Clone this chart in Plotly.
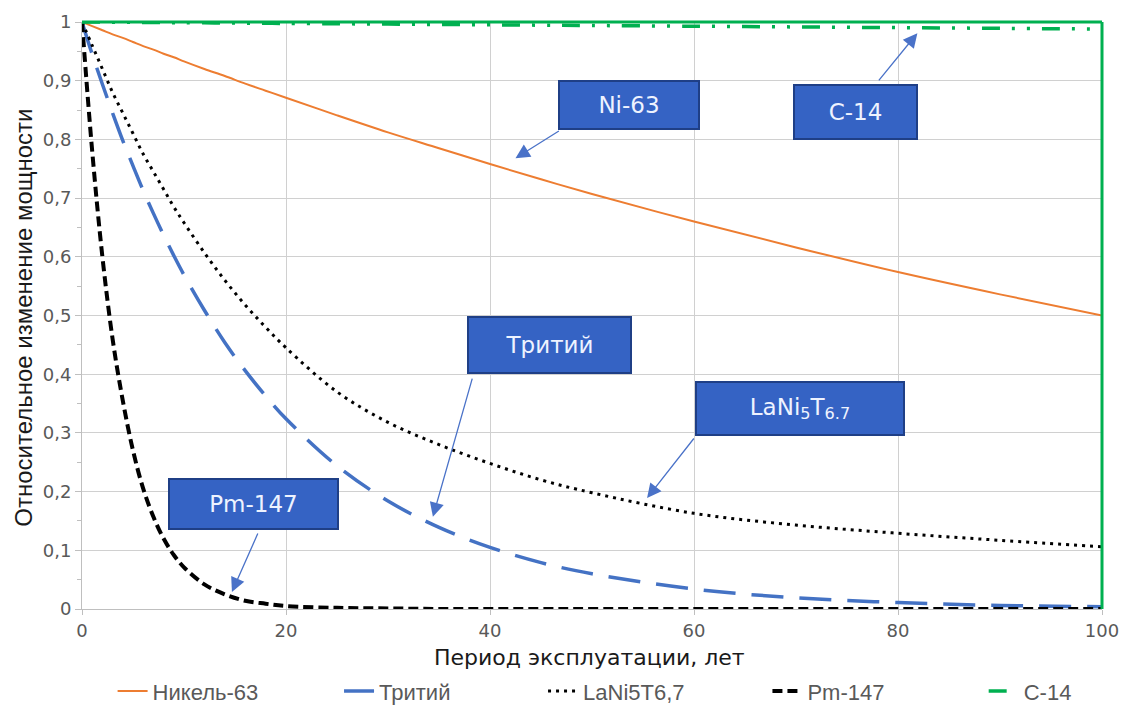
import plotly.graph_objects as go

# ---- data ----
years = [0, 1, 2, 3, 4, 5, 6, 7, 8, 9, 10, 12, 14, 16, 18, 20, 25, 30, 35, 40, 45, 50, 60, 70, 80, 90, 100]
nickel63 = [1.0, 0.993, 0.986, 0.979, 0.973, 0.966, 0.959, 0.953, 0.946, 0.940, 0.933, 0.920, 0.908, 0.895,
            0.883, 0.871, 0.841, 0.812, 0.785, 0.758, 0.732, 0.707, 0.660, 0.616, 0.574, 0.536, 0.500]
tritium = [1.0, 0.945, 0.894, 0.845, 0.798, 0.755, 0.713, 0.674, 0.637, 0.602, 0.569, 0.509, 0.454, 0.406,
           0.363, 0.324, 0.244, 0.184, 0.139, 0.105, 0.079, 0.060, 0.034, 0.019, 0.011, 0.006, 0.004]
lani5t = [1.0, 0.96, 0.92, 0.88, 0.845, 0.81, 0.775, 0.745, 0.715, 0.685, 0.658, 0.607, 0.56, 0.518,
          0.48, 0.445, 0.37, 0.318, 0.28, 0.248, 0.22, 0.198, 0.163, 0.143, 0.129, 0.117, 0.106]
pm147 = [1.0, 0.78, 0.60, 0.46, 0.355, 0.27, 0.205, 0.157, 0.12, 0.092, 0.071, 0.042, 0.025, 0.014,
         0.009, 0.005, 0.002, 0.001, 0.0, 0.0, 0.0, 0.0, 0.0, 0.0, 0.0, 0.0, 0.0]
c14 = [1.0, 1.0, 1.0, 0.9996, 0.9995, 0.9994, 0.9993, 0.9992, 0.9990, 0.9989, 0.9988, 0.9986, 0.9983, 0.9981,
       0.9978, 0.9976, 0.9970, 0.9964, 0.9958, 0.9952, 0.9946, 0.9940, 0.9928, 0.9916, 0.9904, 0.9892, 0.9880]

series_names = ["Никель-63", "Тритий", "LaNi5T6,7", "Pm-147", "C-14"]
y_tick_vals = [0, 0.1, 0.2, 0.3, 0.4, 0.5, 0.6, 0.7, 0.8, 0.9, 1.0]
y_tick_text = ["0", "0,1", "0,2", "0,3", "0,4", "0,5", "0,6", "0,7", "0,8", "0,9", "1"]
x_tick_vals = [0, 20, 40, 60, 80, 100]

x_title = "Период эксплуатации, лет"
y_title = "Относительное изменение мощности"

# callouts: label, box centre (x, y), box size px, arrow tail (x, y), arrow head (x, y)
callouts = [
    ("Ni-63", (53.6, 0.859), (142, 50), (46.9, 0.816), (42.5, 0.768)),
    ("C-14", (75.8, 0.847), (125, 56), (78.0, 0.898), (81.9, 0.981)),
    ("Тритий", (45.8, 0.450), (165, 58), (38.3, 0.395), (34.4, 0.157)),
    ("LaNi<sub>5</sub>T<sub>6.7</sub>", (70.4, 0.342), (210, 55), (60.1, 0.293), (55.4, 0.189)),
    ("Pm-147", (16.8, 0.179), (171, 52), (17.3, 0.131), (14.7, 0.029)),
]

styles = [
    dict(color="#ed7d31", width=2),
    dict(color="#4472c4", width=3.5, dash="32px,16px"),
    dict(color="#000000", width=3, dash="3px,5px"),
    dict(color="#000000", width=4, dash="10px,5px"),
    dict(color="#00b050", width=3.5, dash="18px,12px,3px,12px,3px,12px"),
]
legend_ids = ["legend", "legend2", "legend3", "legend4", "legend5"]
legend_x = [0.030, 0.252, 0.452, 0.672, 0.884]

fig = go.Figure()
for name, ys, st, lg in zip(series_names, [nickel63, tritium, lani5t, pm147, c14], styles, legend_ids):
    fig.add_trace(go.Scatter(x=years, y=ys, name=name, mode="lines", line_shape="spline",
                             line=st, legend=lg))

# green frame on top and right (as in the original)
fig.add_shape(type="line", xref="paper", yref="paper", x0=0, x1=1, y0=1, y1=1,
              line=dict(color="#00b050", width=3))
fig.add_shape(type="line", xref="paper", yref="paper", x0=1, x1=1, y0=0, y1=1,
              line=dict(color="#00b050", width=3))

for label, (cx, cy), (w, h), (tx, ty), (hx, hy) in callouts:
    fig.add_annotation(x=hx, y=hy, ax=tx, ay=ty, xref="x", yref="y", axref="x", ayref="y",
                       text="", showarrow=True, arrowhead=2, arrowsize=2.2, arrowwidth=1.3,
                       arrowcolor="#4a72c8", standoff=0, startstandoff=0)
    fig.add_annotation(x=cx, y=cy, xref="x", yref="y", text=label, showarrow=False,
                       width=w - 4, height=h - 4, bgcolor="#3563c4", bordercolor="#1f3f86",
                       borderwidth=2, borderpad=0, align="center", valign="middle",
                       font=dict(family="DejaVu Sans", size=23, color="#eef3ff"))

fig.add_annotation(x=-0.057, y=0.496, xref="paper", yref="paper", text=y_title, textangle=-90,
                   showarrow=False, xanchor="center", yanchor="middle",
                   font=dict(family="Liberation Sans", size=24, color="#1a1a1a"))

fig.add_annotation(x=0.498, y=-0.083, xref="paper", yref="paper", text=x_title,
                   showarrow=False, xanchor="center", yanchor="middle",
                   font=dict(family="DejaVu Sans", size=22, color="#1a1a1a"))

legend_font = dict(family="Liberation Sans", size=22, color="#595959")
legend_layout = {}
for lg, lx in zip(legend_ids, legend_x):
    legend_layout[lg] = dict(orientation="h", x=lx, xanchor="left", y=-0.14, yanchor="middle",
                             font=legend_font, bgcolor="rgba(0,0,0,0)", borderwidth=0)

fig.update_layout(
    width=1128, height=707,
    margin=dict(l=74, r=34, t=14, b=106, autoexpand=False),
    paper_bgcolor="white", plot_bgcolor="white",
    showlegend=True,
    **legend_layout,
    xaxis=dict(range=[0, 100], tickvals=x_tick_vals, showgrid=True, gridcolor="#d0d0d0", gridwidth=1,
               showline=True, linecolor="#bfbfbf", linewidth=1, zeroline=False, automargin=False,
               ticks="outside", ticklen=5, tickcolor="#bfbfbf",
               tickfont=dict(family="DejaVu Sans", size=18, color="#595959")),
    yaxis=dict(range=[0, 1], tickvals=y_tick_vals, ticktext=y_tick_text, showgrid=True, gridcolor="#d0d0d0",
               gridwidth=1, showline=True, linecolor="#bfbfbf", linewidth=1, zeroline=False, automargin=False,
               ticks="outside", ticklen=6, tickcolor="#bfbfbf",
               minor=dict(dtick=0.05, ticks="outside", ticklen=4, tickcolor="#bfbfbf", showgrid=False),
               tickfont=dict(family="DejaVu Sans", size=18, color="#595959")),
)

fig.write_html("out.html")
